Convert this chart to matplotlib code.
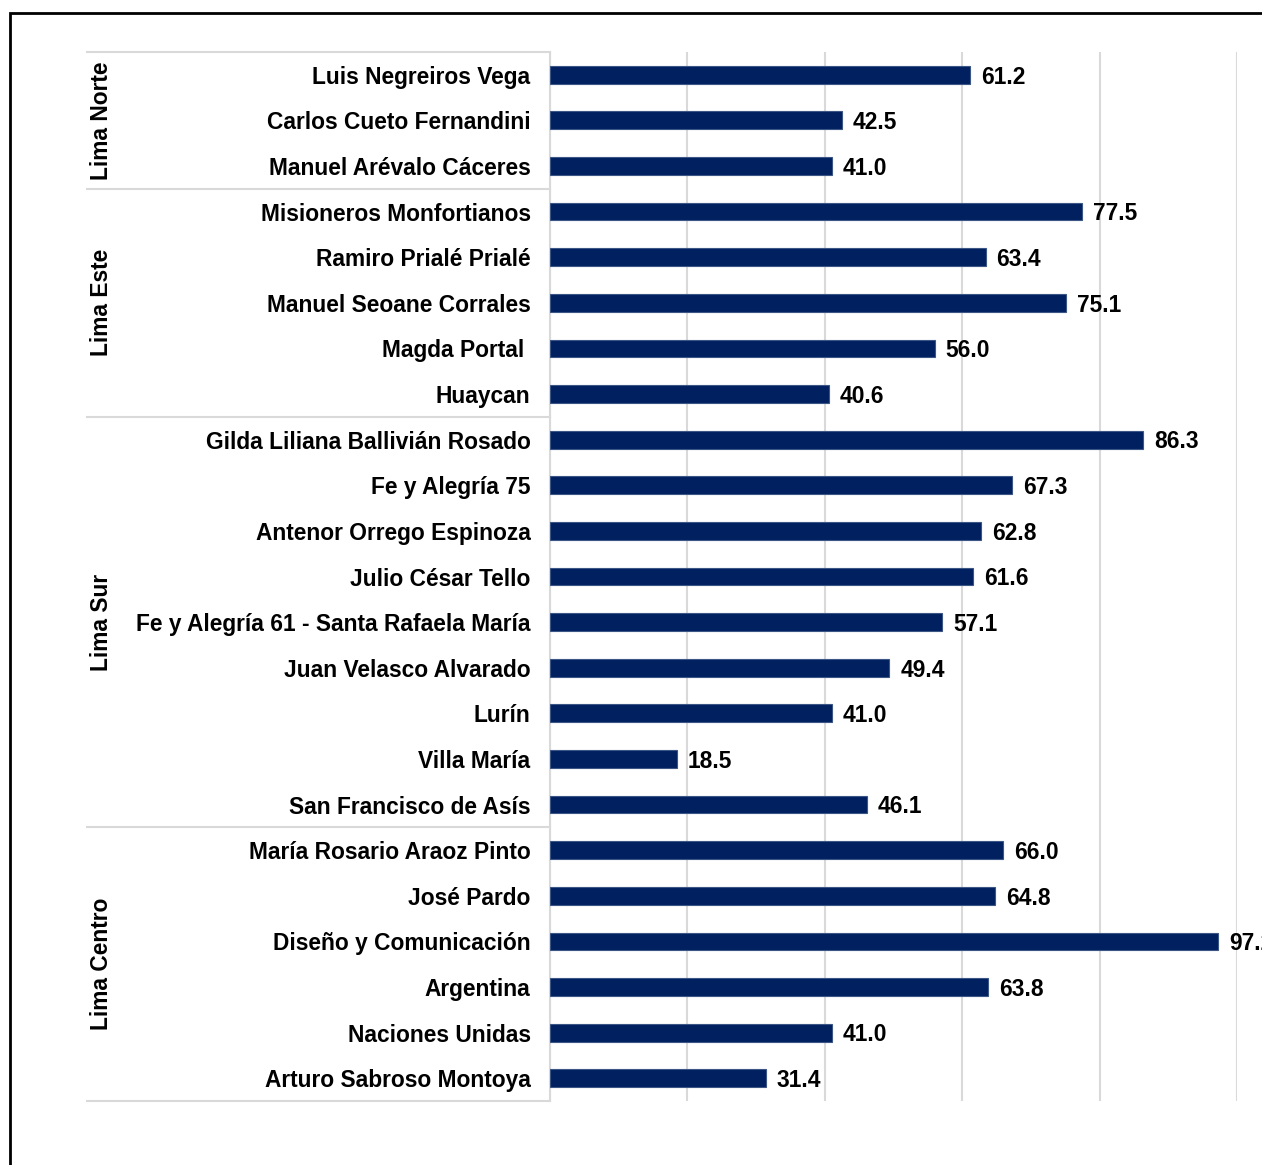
import numpy as np
import matplotlib.pyplot as plt
from matplotlib.patches import Rectangle
from matplotlib.lines import Line2D

plt.rcParams['font.family'] = ['Liberation Sans', 'DejaVu Sans']

# data, top to bottom as in the chart
zones = ['Lima Norte', 'Lima Este', 'Lima Sur', 'Lima Centro']
zone_sizes = [3, 5, 9, 6]
schools = [
    'Luis Negreiros Vega', 'Carlos Cueto Fernandini', 'Manuel Arévalo Cáceres',
    'Misioneros Monfortianos', 'Ramiro Prialé Prialé', 'Manuel Seoane Corrales',
    'Magda Portal ', 'Huaycan',
    'Gilda Liliana Ballivián Rosado', 'Fe y Alegría 75', 'Antenor Orrego Espinoza',
    'Julio César Tello', 'Fe y Alegría 61 - Santa Rafaela María',
    'Juan Velasco Alvarado', 'Lurín', 'Villa María', 'San Francisco de Asís',
    'María Rosario Araoz Pinto', 'José Pardo', 'Diseño y Comunicación',
    'Argentina', 'Naciones Unidas', 'Arturo Sabroso Montoya',
]
values = [61.2, 42.5, 41.0,
          77.5, 63.4, 75.1, 56.0, 40.6,
          86.3, 67.3, 62.8, 61.6, 57.1, 49.4, 41.0, 18.5, 46.1,
          66.0, 64.8, 97.2, 63.8, 41.0, 31.4]

bar_color = '#002060'
grid_color = '#d9d9d9'
fs = 16.4

fig = plt.figure(figsize=(12.62, 11.65), dpi=100)
ax = fig.add_axes([0.4358, 0.0549, 0.5444, 0.9005])

y = np.arange(len(schools))
ax.barh(y, values, height=0.39, color=bar_color, edgecolor='#3b5585',
        linewidth=0.8, zorder=3)
for yi, v in zip(y, values):
    ax.text(v + 1.6, yi + 0.05, f'{v:.1f}', va='center', ha='left',
            fontsize=fs, fontweight='bold', color='black', zorder=4,
            clip_on=False)

ax.set_xlim(0, 100)
ax.set_ylim(len(schools) - 0.5, -0.5)
ax.set_xticks(np.arange(0, 101, 20))
ax.xaxis.grid(True, color=grid_color, linewidth=1.5, zorder=0)
ax.tick_params(axis='x', length=0, labelbottom=False)
ax.set_yticks(y)
ax.set_yticklabels(schools, fontsize=fs, fontweight='bold')
ax.tick_params(axis='y', length=0, pad=14)
for s in ['top', 'right', 'bottom']:
    ax.spines[s].set_visible(False)
ax.spines['left'].set_color(grid_color)
ax.spines['left'].set_linewidth(1.5)

# group brackets on the category side
trans = ax.get_yaxis_transform()
x_left = (87 - 550) / (1237 - 550)
bounds = np.concatenate([[0], np.cumsum(zone_sizes)]) - 0.5
for b in bounds:
    ax.add_line(Line2D([x_left, 0], [b, b], transform=trans, color=grid_color,
                       linewidth=1.5, clip_on=False))
x_group = (102 - 550) / (1237 - 550)
for name, lo, hi in zip(zones, bounds[:-1], bounds[1:]):
    ax.text(x_group, (lo + hi) / 2, name, transform=trans, rotation=90,
            ha='center', va='center', fontsize=fs, fontweight='bold')

# outer frame of the original picture
fig.patches.append(Rectangle((10 / 1262, -0.05), 1.1, 1 - 13 / 1165 + 0.05,
                             transform=fig.transFigure, fill=False,
                             edgecolor='black', linewidth=2))

fig.savefig('out.png', dpi=100)
